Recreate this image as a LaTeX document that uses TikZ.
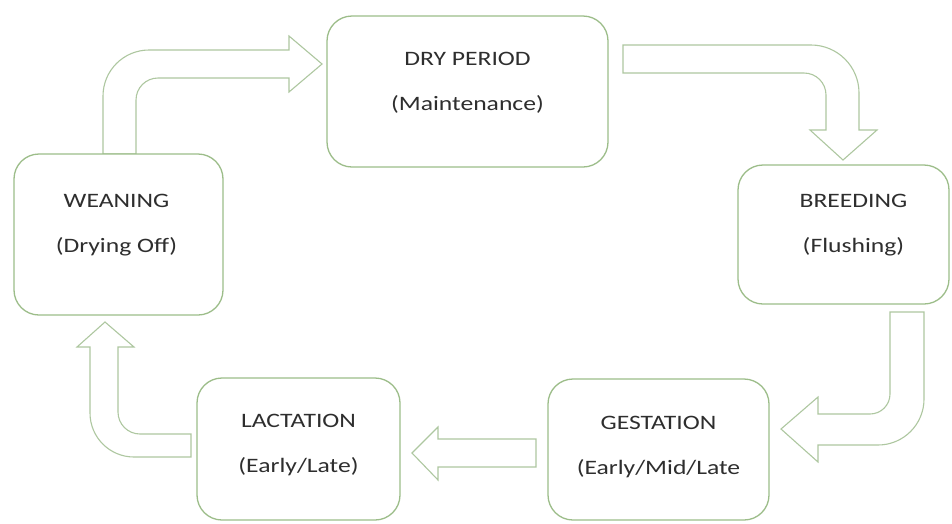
\documentclass[tikz,border=0pt]{standalone}
\usepackage{fontspec}
\usetikzlibrary{positioning}
\newfontfamily\labelfont[FakeStretch=1.25]{Carlito}
\definecolor{boxgreen}{HTML}{9CBD89}
\definecolor{arrowgreen}{HTML}{AEC7A0}
\definecolor{labelgray}{HTML}{2E2E2E}

\begin{document}
\begin{tikzpicture}[
  x=1pt, y=-1pt,
  phase/.style={draw=boxgreen, line width=1.3pt, rounded corners=25pt, fill=white},
  phasetext/.style={align=center, inner sep=0pt, text=labelgray, font=\labelfont\fontsize{20.5}{45}\selectfont},
  bigarrow/.style={draw=arrowgreen, line width=1.1pt, fill=white}
]
\fill[white] (0,0) rectangle (952,523);

% block arrows
\draw[bigarrow] (103,154) [rounded corners=46pt] -- (103,50) [sharp corners] -- (289,50) -- (289,36) -- (322,64) -- (289,92) -- (289,78) [rounded corners=22pt] -- (136,78) [sharp corners] -- (136,154) -- cycle;
\draw[bigarrow] (623,45) [rounded corners=48pt] -- (859,45) [sharp corners] -- (859,130) -- (877,130) -- (843,160) -- (810,130) -- (826,130) [rounded corners=22pt] -- (826,73) [sharp corners] -- (623,73) -- cycle;
\draw[bigarrow] (890,312) -- (924,312) [rounded corners=46pt] -- (924,445) [sharp corners] -- (818,445) -- (818,462) -- (781,429) -- (818,397) -- (818,414) [rounded corners=20pt] -- (890,414) [sharp corners] -- cycle;
\draw[bigarrow] (536,439) -- (438,439) -- (438,427) -- (412,453) -- (438,480) -- (438,467) -- (536,467) -- cycle;
\draw[bigarrow] (191,434) [rounded corners=22pt] -- (118,434) [sharp corners] -- (118,347) -- (134,347) -- (105,322) -- (77,347) -- (90,347) [rounded corners=44pt] -- (90,457) [sharp corners] -- (191,457) -- cycle;

% phases
\node[phase, minimum width=281pt, minimum height=151pt] (dry) at (467.5,91.5) {};
\node[phase, minimum width=209pt, minimum height=161pt] (wean) at (118.5,234.5) {};
\node[phase, minimum width=211pt, minimum height=139pt] (breed) at (843.5,234.5) {};
\node[phase, minimum width=203pt, minimum height=142pt] (lact) at (298.5,449) {};
\node[phase, minimum width=221pt, minimum height=141pt] (gest) at (658.5,449.5) {};

\node[phasetext, below=37pt of dry.north] (dryt) {DRY PERIOD\\(Maintenance)};
\node[phasetext, below=41pt of wean.north, xshift=-2pt] (weant) {WEANING\\(Drying Off)};
\node[phasetext, below=30pt of breed.north, xshift=10pt] (breedt) {BREEDING\\(Flushing)};
\node[phasetext, below=37pt of lact.north] (lactt) {LACTATION\\(Early/Late)};
\node[phasetext, below=38pt of gest.north] (gestt) {GESTATION\\(Early/Mid/Late};
\end{tikzpicture}
\end{document}
